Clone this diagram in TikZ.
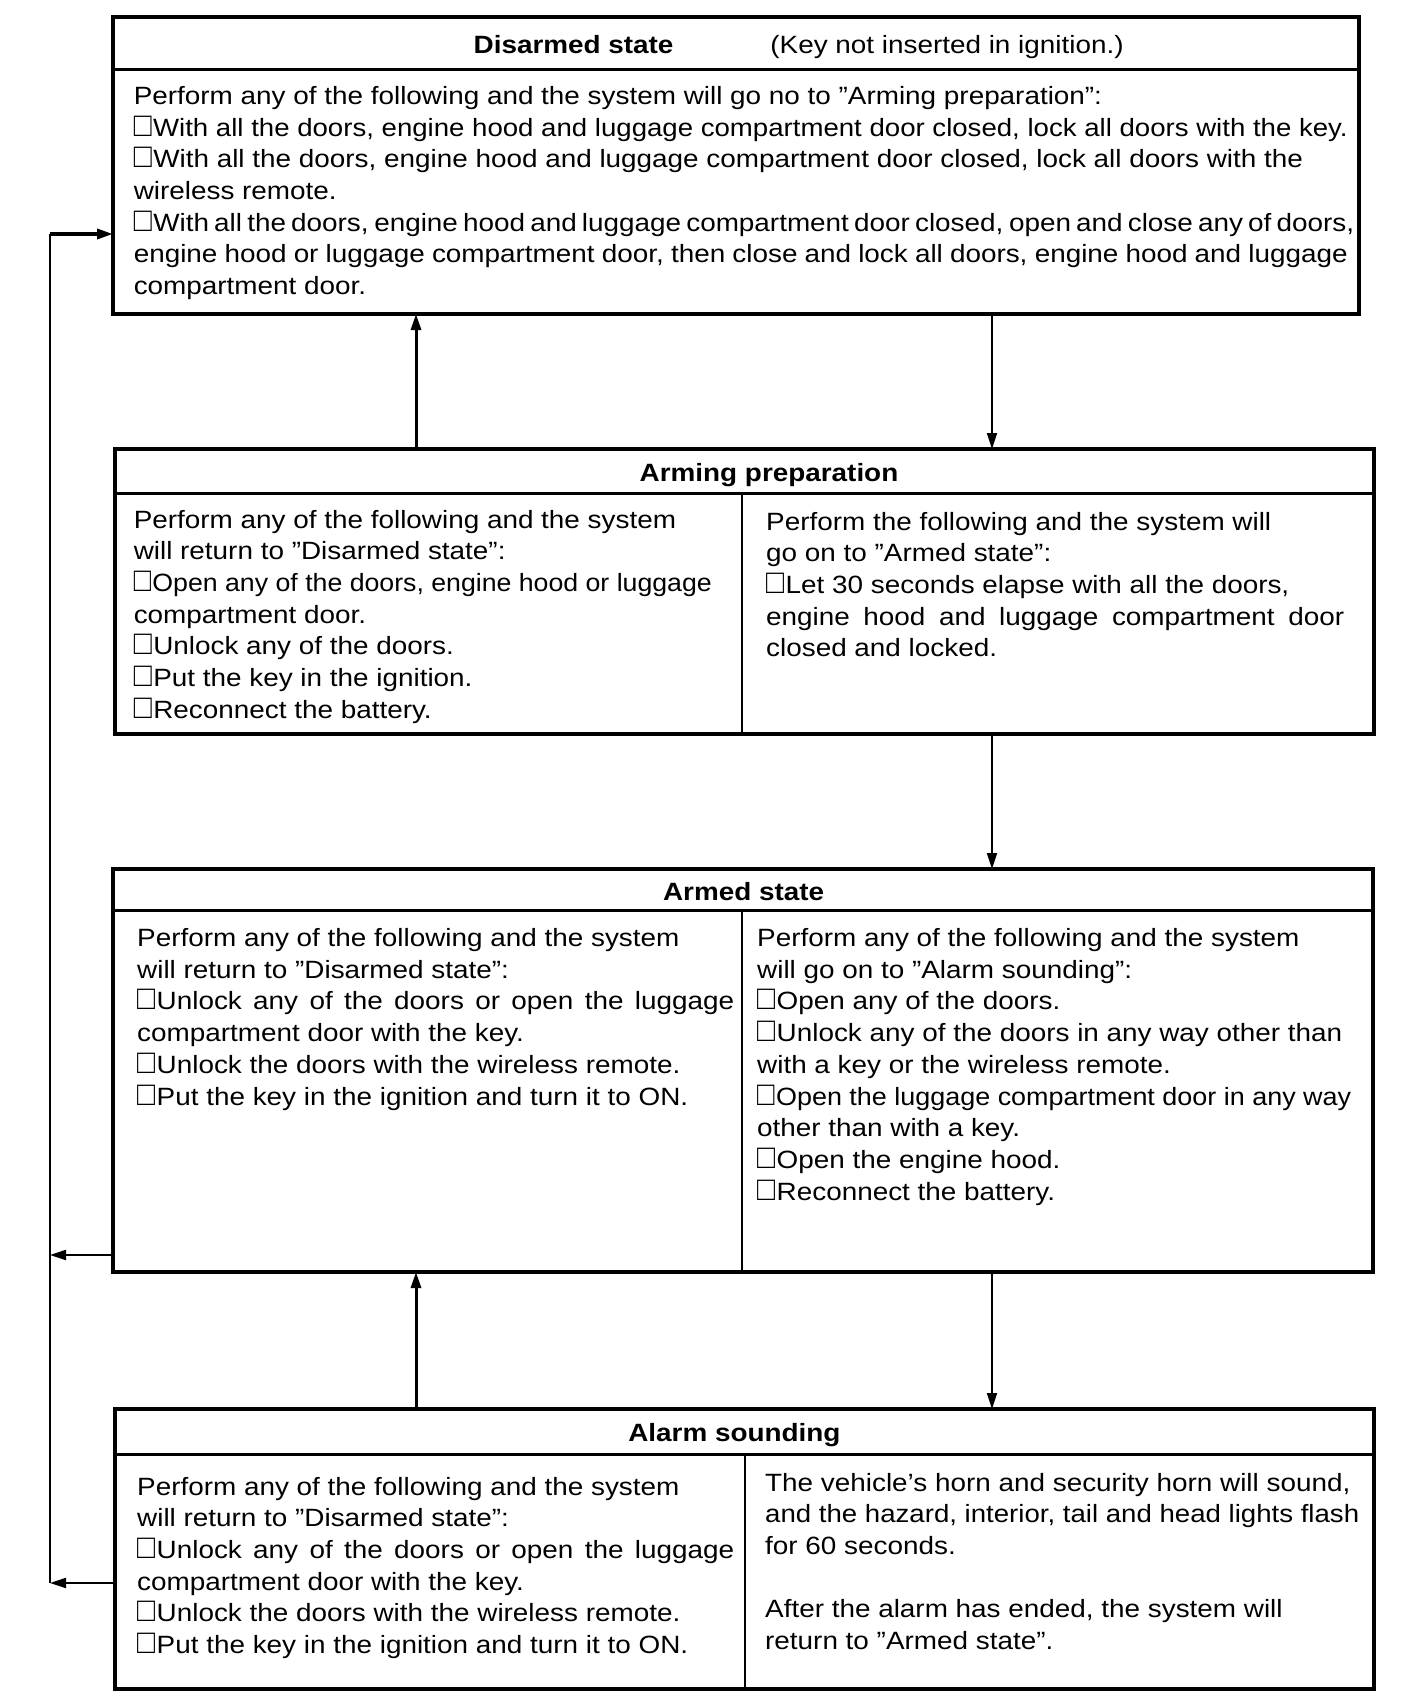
\documentclass[tikz,border=0pt]{standalone}
\usepackage{fontspec}
\usepackage{graphicx}
\setmainfont{Liberation Sans}[FakeStretch=1.115]
\usetikzlibrary{arrows.meta}
\newcommand\bfs{\fontsize{25}{31.7}\selectfont}
\newcommand\jline[2]{\makebox[#1][s]{#2}}
\newcommand\fitline[2]{\resizebox{#1}{\height}{#2}}
\newcommand\cb{\scalebox{1.07}[1.36]{□}\kern1.5pt}
\newcommand\colpar[2]{\parbox[t]{#1}{\raggedright #2}}
\begin{document}
\begin{tikzpicture}[x=1pt,y=-1pt,
  box/.style={draw, line width=3.5pt, inner sep=0pt, outer sep=0pt},
  divline/.style={line width=3pt},
  colline/.style={line width=1.8pt},
  txt/.style={anchor=base west, inner sep=0pt, font=\bfs},
  ttl/.style={anchor=base, inner sep=0pt, font=\bfs\bfseries},
  arr/.style={-{Triangle[length=16pt,width=10pt]}, line width=2pt},
  arrup/.style={arr, line width=3pt},
]
\useasboundingbox (0,0) rectangle (1408,1704);

% ---------- boxes ----------
\node[box, minimum width=1246pt, minimum height=297pt] (dis) at (736,165.5) {};
\node[box, minimum width=1259pt, minimum height=285pt] (arm) at (744.5,591.5) {};
\node[box, minimum width=1260pt, minimum height=403pt] (armd) at (743,1070.5) {};
\node[box, minimum width=1259pt, minimum height=280pt] (alm) at (744.5,1549) {};

% title dividers
\draw[divline] (dis.west |- 0,70) -- (dis.east |- 0,70);
\draw[divline] (arm.west |- 0,493) -- (arm.east |- 0,493);
\draw[divline] (armd.west |- 0,910) -- (armd.east |- 0,910);
\draw[divline] (alm.west |- 0,1454) -- (alm.east |- 0,1454);
% column dividers
\draw[colline] (742,493) -- (arm.south -| 742,0);
\draw[colline] (742,910) -- (armd.south -| 742,0);
\draw[colline] (745,1454) -- (alm.south -| 745,0);

% ---------- titles ----------
\node[ttl] (tdis) at (573.6,54) {Disarmed state};
\node[anchor=base, inner sep=0pt, font=\bfs] (tkey) at (947,54) {(Key not inserted in ignition.)};
\node[ttl] (tarm) at (769,481) {Arming preparation};
\node[ttl] (tarmd) at (743.6,900) {Armed state};
\node[ttl] (talm) at (734.4,1441) {Alarm sounding};

% ---------- texts ----------
\node[txt] (xdis) at (133.6,104.5) {\colpar{1230pt}{%
Perform any of the following and the system will go no to ”Arming preparation”:\\
\fitline{1214pt}{\cb With all the doors, engine hood and luggage compartment door closed, lock all doors with the key.}\\
\cb With all the doors, engine hood and luggage compartment door closed, lock all doors with the\\
wireless remote.\\
\jline{1214pt}{\cb With all the doors, engine hood and luggage compartment door closed, open and close any of doors,}\\
\jline{1214pt}{engine hood or luggage compartment door, then close and lock all doors, engine hood and luggage}\\
compartment door.}};

\node[txt] (xarml) at (133.6,528) {\colpar{600pt}{%
Perform any of the following and the system\\
will return to ”Disarmed state”:\\
\fitline{578pt}{\cb Open any of the doors, engine hood or luggage}\\
compartment door.\\
\cb Unlock any of the doors.\\
\cb Put the key in the ignition.\\
\cb Reconnect the battery.}};

\node[txt] (xarmr) at (766,530) {\colpar{600pt}{%
Perform the following and the system will\\
go on to ”Armed state”:\\
\cb Let 30 seconds elapse with all the doors,\\
\jline{578pt}{engine hood and luggage compartment door}\\
closed and locked.}};

\node[txt] (xarmdl) at (137,946.5) {\colpar{600pt}{%
Perform any of the following and the system\\
will return to ”Disarmed state”:\\
\jline{597pt}{\cb Unlock any of the doors or open the luggage}\\
compartment door with the key.\\
\cb Unlock the doors with the wireless remote.\\
\cb Put the key in the ignition and turn it to ON.}};

\node[txt] (xarmdr) at (757,946.5) {\colpar{610pt}{%
Perform any of the following and the system\\
will go on to ”Alarm sounding”:\\
\cb Open any of the doors.\\
\cb Unlock any of the doors in any way other than\\
with a key or the wireless remote.\\
\fitline{594pt}{\cb Open the luggage compartment door in any way}\\
other than with a key.\\
\cb Open the engine hood.\\
\cb Reconnect the battery.}};

\node[txt] (xalml) at (137,1495) {\colpar{600pt}{%
Perform any of the following and the system\\
will return to ”Disarmed state”:\\
\jline{597pt}{\cb Unlock any of the doors or open the luggage}\\
compartment door with the key.\\
\cb Unlock the doors with the wireless remote.\\
\cb Put the key in the ignition and turn it to ON.}};

\node[txt] (xalmr) at (765,1491) {\colpar{600pt}{%
The vehicle’s horn and security horn will sound,\\
\fitline{594pt}{and the hazard, interior, tail and head lights flash}\\
for 60 seconds.\\[31.7pt]
After the alarm has ended, the system will\\
return to ”Armed state”.}};

% ---------- connectors ----------
\coordinate (ux) at (416,0);
\coordinate (dx) at (992,0);
\coordinate (r0) at (50,234);
\coordinate (r1) at (50,1255);
\coordinate (r2) at (50,1583);

\draw[arrup] (arm.north -| ux) -- (dis.south -| ux);
\draw[arr] (dis.south -| dx) -- (arm.north -| dx);
\draw[arr] (arm.south -| dx) -- (armd.north -| dx);
\draw[arrup] (alm.north -| ux) -- (armd.south -| ux);
\draw[arr] (armd.south -| dx) -- (alm.north -| dx);

\draw[line width=2pt] (r2) -- (r0);
\draw[arr, line width=3.5pt] (r0) -- (dis.west |- r0);
\draw[arr] (armd.west |- r1) -- (r1);
\draw[arr] (alm.west |- r2) -- (r2);
\end{tikzpicture}
\end{document}
